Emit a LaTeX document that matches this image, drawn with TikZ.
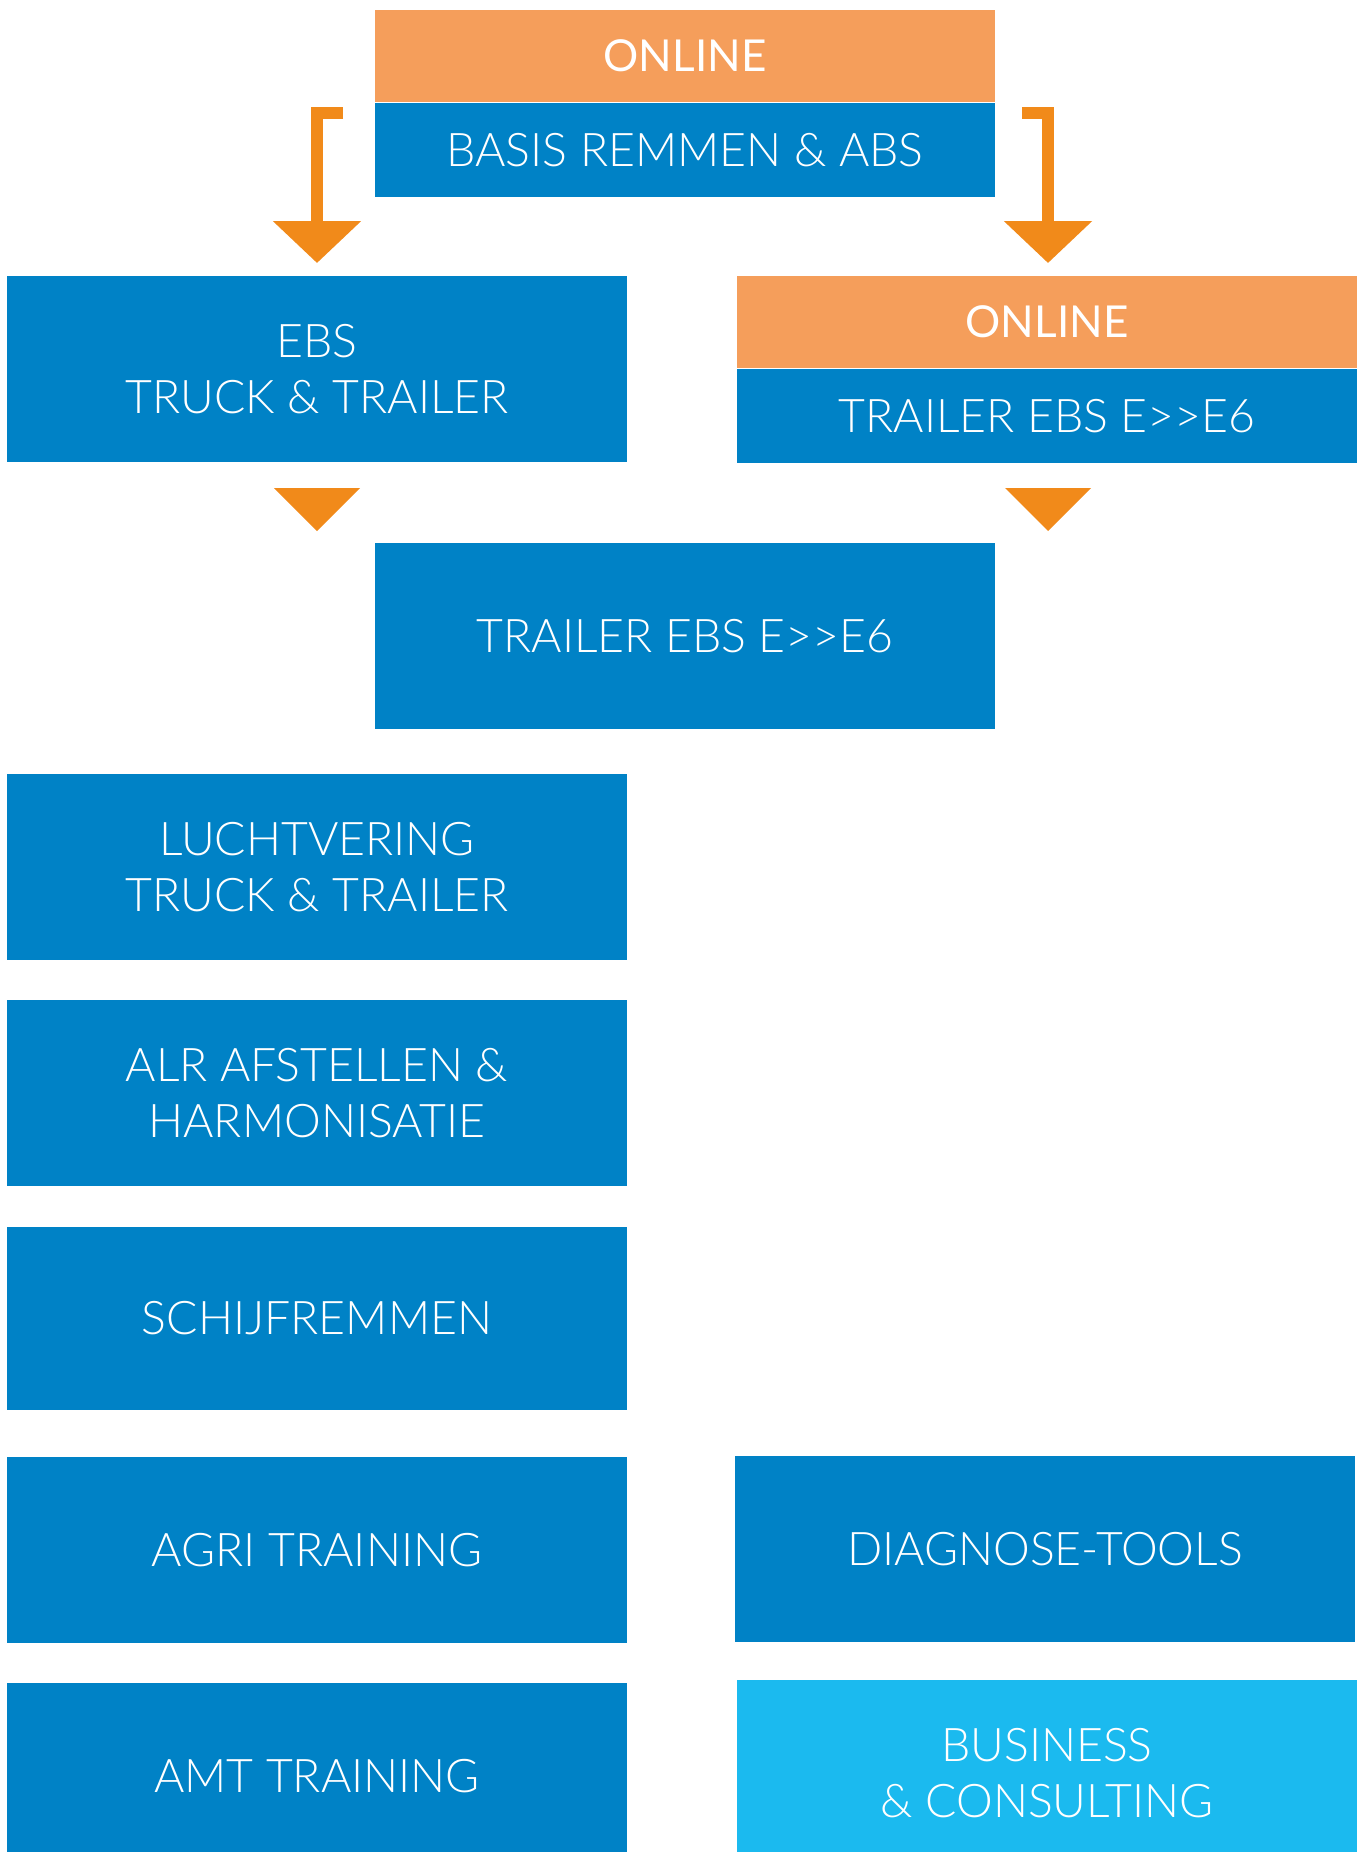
\documentclass[tikz,border=0pt]{standalone}
\usepackage{fontspec}
\setmainfont{Lato}[UprightFont=* Light, BoldFont=*]
\usetikzlibrary{positioning, arrows.meta}
\definecolor{blu}{RGB}{0,130,198}
\definecolor{arancio}{RGB}{245,158,91}
\definecolor{freccia}{RGB}{241,138,26}
\definecolor{azzurro}{RGB}{27,186,239}

\begin{document}
\begin{tikzpicture}[x=0.5pt, y=-0.5pt,
    box/.style={rectangle, fill=blu, text=white, minimum width=310pt, minimum height=93pt, inner sep=0pt, align=center, font=\fontsize{23.2}{28}\selectfont},
    band/.style={box, minimum height=47pt},
    online/.style={box, minimum height=46pt, fill=arancio, font=\fontsize{22}{28}\selectfont\bfseries},
    bracket/.style={draw=freccia, line width=6pt, -{Triangle[length=21pt, width=43pt]}}
]
    \useasboundingbox (0,0) rectangle (1365,1852);

    \node[online] (online1) at (685,56) {ONLINE};
    \node[band, below=0pt of online1] (basis) {BASIS REMMEN \& ABS};

    \node[box] (ebs) at (317,369) {EBS\\TRUCK \& TRAILER};
    \node[online] (online2) at (1047,322) {ONLINE};
    \node[band, below=0pt of online2] (trailer1) {TRAILER EBS E>\kern0pt>E6};

    \node[box] (trailer2) at (685,636) {TRAILER EBS E>\kern0pt>E6};

    % colonna di sinistra
    \node[box] (lucht) at (317,867) {LUCHTVERING\\TRUCK \& TRAILER};
    \node[box] (alr) at (317,1093) {ALR AFSTELLEN \&\\HARMONISATIE};
    \node[box, minimum height=91.5pt] (schijf) at (317,1318.5) {SCHIJFREMMEN};
    \node[box] (agri) at (317,1550) {AGRI TRAINING};
    \node[box] (amt) at (317,1776) {AMT TRAINING};

    % colonna di destra
    \node[box] (diag) at (1045,1549) {DIAGNOSE-TOOLS};
    \node[box, fill=azzurro] (business) at (1047,1773) {BUSINESS\\\& CONSULTING};

    % frecce
    \coordinate (tabL) at (343,112.5);
    \coordinate (tipL) at (317,263);
    \draw[bracket] (tabL) -| (tipL);
    \coordinate (tabR) at (1022,112.5);
    \coordinate (tipR) at (1048,263);
    \draw[bracket] (tabR) -| (tipR);

    \fill[freccia] (274,488) -- (360,488) -- (317,531) -- cycle;
    \fill[freccia] (1005,488) -- (1091,488) -- (1048,531) -- cycle;
\end{tikzpicture}
\end{document}
